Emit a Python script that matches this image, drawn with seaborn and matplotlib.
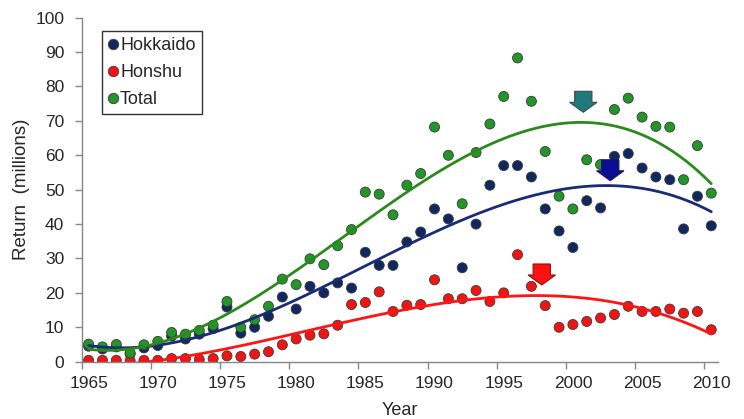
import numpy as np
import pandas as pd
import matplotlib
matplotlib.use("Agg")
import matplotlib.pyplot as plt
from matplotlib.patches import FancyArrow
from matplotlib.lines import Line2D
import seaborn as sns

# ---- data ----
years = list(range(1965, 2011))

hokkaido = [4.5, 3.7, 4.3, 2.3, 4.0, 4.7, 7.4, 6.6, 8.0, 9.6,
            15.9, 8.3, 10.0, 13.2, 18.8, 15.3, 21.9, 20.0, 22.9, 21.4,
            31.8, 28.0, 28.0, 34.8, 37.7, 44.4, 41.5, 27.3, 40.0, 51.3,
            57.0, 57.0, 53.7, 44.4, 38.0, 33.2, 46.8, 44.7, 59.7, 60.5,
            56.3, 53.7, 52.9, 38.6, 48.1, 39.5]

honshu = [0.4, 0.4, 0.4, 0.3, 0.4, 0.4, 0.9, 0.9, 0.6, 0.9,
          1.7, 1.5, 2.2, 2.9, 4.9, 6.6, 7.7, 8.1, 10.6, 16.6,
          17.2, 20.3, 14.6, 16.4, 16.6, 23.8, 18.3, 18.3, 20.7, 17.5,
          20.0, 31.1, 21.9, 16.3, 10.0, 10.8, 11.7, 12.7, 13.7, 16.1,
          14.6, 14.6, 15.3, 14.1, 14.6, 9.3]

total = [5.1, 4.3, 5.0, 2.5, 4.9, 5.9, 8.5, 8.0, 9.1, 10.6,
         17.5, 10.0, 12.2, 16.1, 24.0, 22.4, 29.9, 28.2, 33.7, 38.4,
         49.3, 48.7, 42.7, 51.3, 54.7, 68.2, 60.0, 45.9, 60.8, 69.1,
         77.1, 88.3, 75.7, 61.1, 48.1, 44.4, 58.7, 57.3, 73.3, 76.6,
         71.1, 68.4, 68.2, 52.9, 62.8, 49.0]

series_names = ["Hokkaido", "Honshu", "Total"]
dot_colors = {"Hokkaido": "#11275f", "Honshu": "#f01515", "Total": "#229628"}
line_colors = {"Hokkaido": "#172c74", "Honshu": "#ff1414", "Total": "#2b8a1c"}

# peak markers (block arrows): year, tip value, fill colour
arrow_years = [2000.75, 2002.7, 1997.75]
arrow_tips = [72.5, 52.6, 22.3]
arrow_fill = ["#1d7b7d", "#0b0b96", "#ff1111"]
arrow_edge = ["#3b4b4b", "#1c1c50", "#8a1010"]

x_label_years = list(range(1965, 2011, 5))
y_ticks = list(range(0, 101, 10))

df = pd.DataFrame({"Year": years * 3,
                   "Return": hokkaido + honshu + total,
                   "Region": sum([[n] * len(years) for n in series_names], [])})

# ---- style ----
sns.set_theme(style="white")
plt.rcParams["font.family"] = ["Liberation Sans", "DejaVu Sans"]

fig = plt.figure(figsize=(7.44, 4.19), dpi=100)
ax = fig.add_axes([0.1098, 0.1368, 0.8555, 0.821])

sns.scatterplot(data=df, x="Year", y="Return", hue="Region",
                palette=dot_colors, s=52, edgecolor="#3a3a3a",
                linewidth=0.6, legend=False, ax=ax, zorder=2)

# cubic trend lines, like the spreadsheet's polynomial trendlines
for name, vals in zip(series_names, [hokkaido, honshu, total]):
    sns.regplot(x=years, y=vals, order=3, ci=None, scatter=False,
                line_kws=dict(color=line_colors[name], lw=2.0, zorder=3), ax=ax)

for x, tip, fc, ec in zip(arrow_years, arrow_tips, arrow_fill, arrow_edge):
    ax.add_patch(FancyArrow(x, tip + 6.1, 0, -6.1, width=1.25,
                            head_width=1.98, head_length=2.9,
                            length_includes_head=True, fc=fc, ec=ec,
                            lw=0.8, zorder=4))

# ---- axes ----
ax.set_xlim(1964.5, 2010.5)
ax.set_ylim(0, 100)
ax.set_xticks([y - 0.5 for y in x_label_years])
ax.set_xticklabels([])
ax.set_xticks(x_label_years, minor=True)
ax.set_xticklabels([str(y) for y in x_label_years], minor=True)
ax.set_yticks(y_ticks)
ax.set_yticklabels([str(v) for v in y_ticks])
ax.tick_params(axis="x", which="major", direction="out", length=5,
               width=1, color="#868686", bottom=True)
ax.tick_params(axis="x", which="minor", length=0, pad=10,
               labelsize=12.5, bottom=True)
ax.tick_params(axis="y", direction="out", length=5, width=1,
               color="#868686", left=True, labelsize=12.5, pad=7.5)

for side in ["top", "right"]:
    ax.spines[side].set_visible(False)
for side in ["left", "bottom"]:
    ax.spines[side].set_color("#868686")
    ax.spines[side].set_linewidth(1)

ax.set_xlabel("Year", fontsize=13, labelpad=8)
ax.set_ylabel("Return  (millions)", fontsize=13.5, labelpad=4)

handles = [Line2D([], [], marker="o", ls="", markersize=7.5,
                  markerfacecolor=dot_colors[n], markeredgecolor="#3a3a3a",
                  markeredgewidth=0.6) for n in series_names]
leg = ax.legend(handles, series_names, loc="upper left",
                bbox_to_anchor=(0.032, 0.962), frameon=True, fancybox=False,
                edgecolor="black", fontsize=13, handlelength=0.5,
                handletextpad=0.15, borderpad=0.35, labelspacing=0.55,
                borderaxespad=0)
leg.get_frame().set_linewidth(1.0)

fig.savefig("out.png", dpi=100)
